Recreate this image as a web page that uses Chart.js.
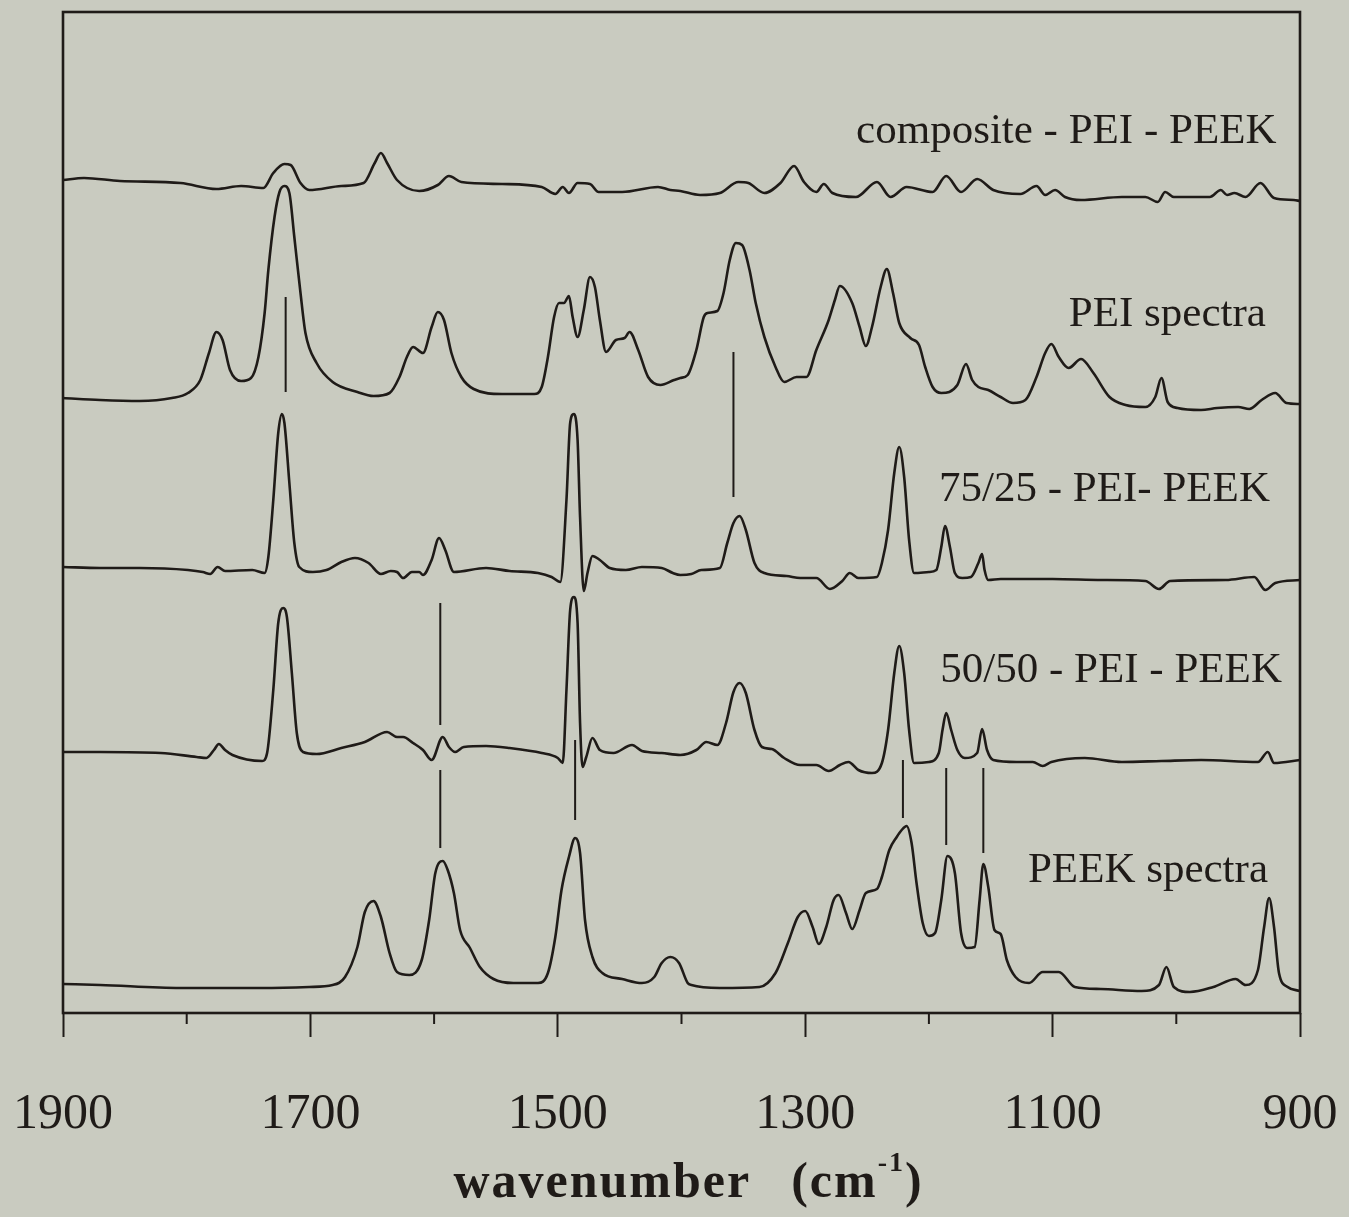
<!DOCTYPE html>
<html>
<head>
<meta charset="utf-8">
<title>FTIR spectra PEI / PEEK</title>
<script src="https://cdn.jsdelivr.net/npm/chart.js@4.4.0/dist/chart.umd.min.js"></script>
<style>
    html, body { margin: 0; padding: 0; background: #c9cbc0; }
    #wrap { width: 1349px; height: 1217px; }
</style>
</head>
<body>
<div id="wrap"><canvas id="myChart" width="1349" height="1217"></canvas></div>
<script>
// wavenumber (cm-1) / stacked absorbance (offset units) for each trace
var compositeWn = [1900, 1883, 1854, 1805, 1776, 1756, 1738, 1730, 1721, 1716, 1708, 1701, 1675, 1657, 1648, 1643, 1638, 1630, 1612, 1597, 1588, 1578, 1545, 1513, 1502, 1496, 1491, 1484, 1474, 1467, 1448, 1419, 1409, 1401, 1385, 1369, 1354, 1346, 1333, 1320, 1309, 1301, 1291, 1285, 1278, 1259, 1242, 1231, 1218, 1197, 1186, 1174, 1161, 1148, 1126, 1113, 1106, 1098, 1090, 1077, 1044, 1025, 1015, 1009, 1002, 973, 964, 959, 953, 944, 932, 921, 905, 900];
var compositeAbs = [833, 835, 832, 830, 824, 827, 825, 840, 849, 848, 830, 823, 827, 830, 850, 860, 850, 833, 822, 828, 837, 831, 829, 826, 819, 826, 820, 830, 829, 821, 821, 826, 823, 822, 818, 820, 831, 830, 820, 830, 847, 831, 821, 829, 820, 816, 831, 816, 826, 821, 837, 821, 834, 823, 819, 827, 818, 823, 816, 813, 816, 816, 811, 821, 816, 816, 823, 818, 820, 816, 830, 815, 813, 812];

var peiWn = [1900, 1870, 1838, 1812, 1799, 1789, 1782, 1776, 1771, 1765, 1756, 1748, 1742, 1737, 1734, 1729, 1725, 1721, 1717, 1713, 1708, 1704, 1695, 1682, 1662, 1649, 1636, 1628, 1622, 1617, 1609, 1602, 1597, 1592, 1586, 1578, 1568, 1545, 1519, 1513, 1508, 1503, 1499, 1495, 1491, 1488, 1484, 1479, 1474, 1470, 1466, 1461, 1453, 1446, 1442, 1435, 1427, 1417, 1406, 1401, 1395, 1388, 1382, 1379, 1371, 1366, 1361, 1356, 1351, 1345, 1340, 1333, 1324, 1317, 1307, 1299, 1291, 1281, 1276, 1272, 1262, 1256, 1251, 1246, 1239, 1234, 1229, 1224, 1215, 1208, 1203, 1197, 1190, 1177, 1170, 1165, 1160, 1152, 1142, 1132, 1122, 1113, 1106, 1101, 1095, 1087, 1077, 1067, 1054, 1041, 1025, 1017, 1012, 1007, 999, 980, 967, 950, 941, 931, 920, 911, 900];
var peiAbs = [615, 613, 612, 615, 620, 633, 660, 681, 673, 643, 632, 635, 656, 700, 743, 796, 821, 827, 820, 776, 720, 680, 650, 631, 621, 617, 620, 636, 656, 666, 660, 686, 701, 693, 660, 636, 624, 619, 619, 626, 656, 696, 710, 710, 717, 696, 676, 703, 736, 726, 693, 661, 673, 675, 681, 663, 636, 628, 633, 635, 638, 663, 696, 700, 702, 720, 753, 770, 768, 743, 710, 676, 646, 631, 636, 636, 663, 693, 713, 727, 710, 686, 667, 686, 726, 744, 720, 690, 675, 668, 646, 626, 620, 628, 649, 633, 626, 623, 616, 610, 613, 636, 660, 669, 656, 645, 654, 640, 616, 608, 606, 616, 635, 611, 605, 603, 605, 606, 604, 613, 620, 610, 609];

var blend7525Wn = [1900, 1870, 1838, 1799, 1787, 1781, 1775, 1769, 1747, 1737, 1734, 1730, 1726, 1723, 1721, 1717, 1713, 1709, 1698, 1687, 1675, 1664, 1653, 1643, 1635, 1630, 1625, 1618, 1612, 1609, 1602, 1596, 1591, 1584, 1558, 1539, 1516, 1505, 1498, 1493, 1490, 1487, 1484, 1482, 1479, 1476, 1472, 1466, 1458, 1445, 1432, 1416, 1407, 1401, 1392, 1384, 1369, 1363, 1358, 1353, 1348, 1341, 1333, 1315, 1304, 1291, 1280, 1270, 1264, 1257, 1242, 1238, 1233, 1228, 1224, 1220, 1216, 1212, 1200, 1194, 1190, 1187, 1183, 1179, 1173, 1166, 1160, 1157, 1155, 1152, 1142, 1126, 1100, 1060, 1025, 1014, 1005, 960, 937, 928, 920, 900];
var blend7525Abs = [446, 445, 445, 443, 441, 439, 446, 442, 443, 440, 456, 513, 580, 599, 590, 530, 470, 446, 441, 443, 451, 455, 450, 439, 442, 441, 435, 441, 441, 438, 453, 475, 463, 441, 445, 442, 440, 436, 431, 513, 590, 599, 573, 496, 422, 440, 457, 453, 445, 443, 446, 445, 440, 438, 439, 443, 445, 470, 490, 497, 483, 450, 440, 437, 435, 435, 424, 432, 440, 435, 436, 450, 483, 540, 566, 536, 473, 440, 441, 443, 466, 487, 466, 440, 435, 436, 450, 459, 443, 433, 434, 434, 434, 433, 432, 424, 432, 433, 436, 423, 430, 433];

var blend5050Wn = [1900, 1870, 1821, 1792, 1784, 1778, 1774, 1769, 1763, 1739, 1735, 1730, 1726, 1722, 1719, 1715, 1711, 1706, 1695, 1675, 1656, 1638, 1630, 1625, 1617, 1609, 1602, 1593, 1588, 1583, 1576, 1558, 1539, 1513, 1500, 1496, 1493, 1490, 1487, 1484, 1482, 1480, 1477, 1472, 1466, 1455, 1440, 1432, 1416, 1401, 1388, 1380, 1371, 1364, 1358, 1353, 1348, 1341, 1335, 1327, 1317, 1304, 1291, 1281, 1272, 1265, 1257, 1246, 1238, 1233, 1228, 1224, 1220, 1216, 1212, 1200, 1192, 1189, 1186, 1182, 1177, 1171, 1161, 1157, 1153, 1148, 1129, 1116, 1108, 1101, 1074, 1044, 1012, 980, 934, 926, 921, 900];
var blend5050Abs = [261, 261, 260, 256, 255, 263, 269, 263, 258, 252, 260, 323, 390, 405, 396, 340, 280, 261, 259, 265, 271, 281, 276, 276, 270, 263, 253, 276, 266, 261, 266, 267, 265, 260, 255, 250, 323, 403, 416, 390, 290, 246, 256, 275, 263, 260, 268, 262, 260, 258, 263, 271, 268, 290, 321, 330, 320, 283, 266, 264, 255, 248, 248, 242, 248, 251, 243, 240, 250, 283, 340, 367, 340, 283, 250, 251, 260, 283, 300, 283, 263, 255, 260, 284, 263, 253, 251, 251, 247, 251, 255, 251, 252, 253, 251, 261, 250, 253];

var peekWn = [1900, 1870, 1805, 1740, 1701, 1682, 1672, 1662, 1656, 1649, 1643, 1636, 1630, 1620, 1610, 1604, 1599, 1593, 1589, 1584, 1579, 1571, 1563, 1552, 1536, 1516, 1508, 1502, 1497, 1491, 1486, 1482, 1478, 1472, 1464, 1448, 1432, 1422, 1416, 1409, 1402, 1395, 1392, 1369, 1337, 1324, 1314, 1306, 1300, 1294, 1289, 1283, 1277, 1273, 1267, 1262, 1256, 1251, 1242, 1238, 1232, 1226, 1222, 1218, 1214, 1210, 1205, 1200, 1195, 1190, 1185, 1179, 1174, 1169, 1163, 1159, 1156, 1152, 1147, 1142, 1137, 1130, 1119, 1108, 1095, 1082, 1061, 1028, 1014, 1008, 1002, 989, 970, 952, 944, 934, 929, 925, 921, 917, 910, 900];
var peekAbs = [29, 28, 25, 25, 26, 28, 36, 66, 101, 112, 96, 60, 41, 38, 53, 93, 140, 152, 143, 120, 83, 65, 46, 34, 30, 30, 40, 76, 123, 156, 175, 160, 93, 56, 40, 34, 30, 36, 50, 56, 50, 30, 28, 25, 26, 40, 70, 96, 102, 86, 69, 86, 113, 118, 100, 84, 103, 120, 124, 136, 163, 176, 183, 187, 170, 130, 90, 77, 80, 113, 157, 140, 80, 65, 66, 113, 149, 126, 83, 79, 53, 36, 30, 41, 41, 26, 24, 22, 28, 46, 26, 21, 26, 34, 28, 43, 86, 115, 86, 40, 26, 22];

// band guide lines: position, upper end, lower end
var markerWn = [1720, 1358, 1595, 1595, 1486, 1221, 1186, 1156];
var markerTop = [716, 661, 410, 243, 273, 253, 245, 245];
var markerBottom = [621, 516, 288, 165, 193, 195, 168, 160];

var spectrumNames = ['composite - PEI - PEEK', 'PEI spectra', '75/25 - PEI- PEEK', '50/50 - PEI - PEEK', 'PEEK spectra'];
var tickLabels = [1900, 1700, 1500, 1300, 1100, 900];

var ink = '#1f1b18';
var serif = '"Liberation Serif", "Times New Roman", serif';

// where each trace name sits (right edge wavenumber, baseline height)
var namePos = [
    { wn: 919, h: 870 },
    { wn: 927.6, h: 687 },
    { wn: 924.3, h: 512 },
    { wn: 914.6, h: 331 },
    { wn: 925.9, h: 131 }
];

function toPoints(wn, abs) {
    return wn.map((w, i) => ({ x: w, y: abs[i] }));
}

var traces = [
    [compositeWn, compositeAbs],
    [peiWn, peiAbs],
    [blend7525Wn, blend7525Abs],
    [blend5050Wn, blend5050Abs],
    [peekWn, peekAbs]
];

var datasets = traces.map(function (t, i) {
    return {
        label: spectrumNames[i],
        data: toPoints(t[0], t[1]),
        borderColor: ink,
        borderWidth: 2.6,
        pointRadius: 0,
        fill: false,
        cubicInterpolationMode: 'monotone'
    };
});

markerWn.forEach(function (w, i) {
    datasets.push({
        label: 'marker ' + w,
        data: [{ x: w, y: markerTop[i] }, { x: w, y: markerBottom[i] }],
        borderColor: ink,
        borderWidth: 2,
        pointRadius: 0,
        tension: 0
    });
});

var paperPlugin = {
    id: 'paper',
    beforeDraw: function (chart) {
        var c = chart.ctx;
        c.save();
        c.fillStyle = '#c9cbc0';
        c.fillRect(0, 0, chart.width, chart.height);
        c.restore();
    },
    afterDraw: function (chart) {
        var c = chart.ctx;
        var a = chart.chartArea;
        var xs = chart.scales.x;
        var ys = chart.scales.y;
        c.save();

        // box
        c.strokeStyle = ink;
        c.lineWidth = 2.6;
        c.strokeRect(a.left, a.top, a.right - a.left, a.bottom - a.top);

        // short ticks between the labelled ones
        c.lineWidth = 2;
        for (var v = 900; v <= 1900; v += 100) {
            if (tickLabels.indexOf(v) >= 0) continue;
            var px = xs.getPixelForValue(v);
            c.beginPath();
            c.moveTo(px, a.bottom);
            c.lineTo(px, a.bottom + 11);
            c.stroke();
        }

        // trace names
        c.fillStyle = ink;
        c.font = '43px ' + serif;
        c.textAlign = 'right';
        c.textBaseline = 'alphabetic';
        spectrumNames.forEach(function (name, i) {
            c.fillText(name, xs.getPixelForValue(namePos[i].wn), ys.getPixelForValue(namePos[i].h));
        });

        // axis title: "wavenumber", gap, "(cm", superscript "-1", ")"
        var big = 'bold 50px ' + serif;
        var small = 'bold 28px ' + serif;
        var gap = 40;
        c.textAlign = 'left';
        c.letterSpacing = '2px';
        c.font = big;
        var wWord = c.measureText('wavenumber').width;
        var wOpen = c.measureText('(cm').width;
        var wClose = c.measureText(')').width;
        c.font = small;
        var wSup = c.measureText('-1').width;
        var total = wWord + gap + wOpen + wSup + wClose;
        var x0 = (a.left + a.right) / 2 + 7 - total / 2;
        var base = 1197;
        c.font = big;
        c.fillText('wavenumber', x0, base);
        c.fillText('(cm', x0 + wWord + gap, base);
        c.font = small;
        c.fillText('-1', x0 + wWord + gap + wOpen, base - 26);
        c.font = big;
        c.fillText(')', x0 + wWord + gap + wOpen + wSup, base);

        c.restore();
    }
};

var ctx = document.getElementById('myChart').getContext('2d');
var myChart = new Chart(ctx, {
    type: 'line',
    data: { datasets: datasets },
    options: {
        responsive: false,
        animation: false,
        devicePixelRatio: 1,
        layout: { padding: { left: 63, right: 49, top: 12, bottom: 0 } },
        plugins: {
            legend: { display: false },
            tooltip: { enabled: false }
        },
        scales: {
            x: {
                type: 'linear',
                reverse: true,
                min: 900,
                max: 1900,
                afterFit: function (scale) {
                    scale.height = 204;
                    scale.paddingLeft = 0;
                    scale.paddingRight = 0;
                },
                border: { display: false },
                grid: {
                    drawOnChartArea: false,
                    drawTicks: true,
                    tickLength: 24,
                    tickWidth: 2,
                    tickColor: function (c) {
                        return c.tick && tickLabels.indexOf(c.tick.value) >= 0 ? ink : 'rgba(0,0,0,0)';
                    }
                },
                ticks: {
                    stepSize: 100,
                    autoSkip: false,
                    maxRotation: 0,
                    padding: 48,
                    color: ink,
                    font: { family: serif, size: 50 },
                    callback: function (v) { return tickLabels.indexOf(v) >= 0 ? String(v) : ''; }
                }
            },
            y: {
                display: false,
                min: 0,
                max: 1001
            }
        }
    },
    plugins: [paperPlugin]
});
</script>
</body>
</html>
